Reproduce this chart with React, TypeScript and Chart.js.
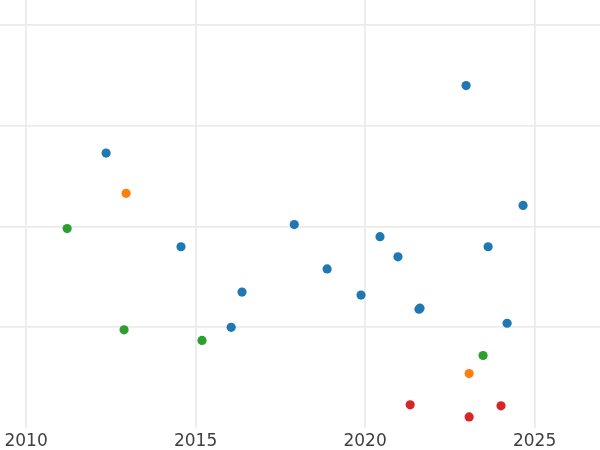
import React, { useEffect, useRef } from "react";
import { Chart, registerables } from "chart.js";

Chart.register(...registerables);

const xTicks = [2010, 2015, 2020, 2025];
const yTicks = [1, 2, 3, 4];

const blueX = [2012.36, 2022.98, 2024.66, 2014.57, 2017.91, 2020.44, 2020.97, 2018.88, 2023.63, 2016.37, 2019.88, 2021.59, 2021.62, 2016.05, 2024.19];
const blueY = [2.73, 3.40, 2.21, 1.80, 2.02, 1.90, 1.70, 1.58, 1.80, 1.35, 1.32, 1.18, 1.19, 1.00, 1.04];
const orangeX = [2012.95, 2023.07];
const orangeY = [2.33, 0.54];
const greenX = [2011.21, 2012.89, 2015.19, 2023.48];
const greenY = [1.98, 0.975, 0.87, 0.72];
const redX = [2021.33, 2023.07, 2024.01];
const redY = [0.23, 0.11, 0.22];

const toPts = (xs: number[], ys: number[]) => xs.map((x, i) => ({ x, y: ys[i] }));

export default function App() {
  const ref = useRef<HTMLCanvasElement>(null);
  useEffect(() => {
    if (!ref.current) return;
    const mk = (label: string, xs: number[], ys: number[], color: string) => ({
      label,
      data: toPts(xs, ys),
      backgroundColor: color,
      borderColor: color,
      borderWidth: 0,
      pointRadius: 4.6,
    });
    const chart = new Chart(ref.current, {
      type: "scatter",
      data: {
        datasets: [
          mk("blue", blueX, blueY, "#1f77b4"),
          mk("orange", orangeX, orangeY, "#ff7f0e"),
          mk("green", greenX, greenY, "#2ca02c"),
          mk("red", redX, redY, "#d62728"),
        ],
      },
      options: {
        animation: false,
        responsive: false,
        layout: { padding: 0, autoPadding: false },
        plugins: { legend: { display: false }, tooltip: { enabled: false } },
        scales: {
          x: {
            type: "linear",
            min: 2009.23,
            max: 2026.93,
            afterBuildTicks: (s: any) => {
              s.ticks = xTicks.map((v) => ({ value: v }));
            },
            afterFit: (s: any) => {
              s.height = 22;
            },
            border: { display: false },
            grid: { color: "#ebebeb", lineWidth: 1.8, drawTicks: false },
            ticks: {
              padding: 3,
              color: "#3f3f3f",
              font: { family: "DejaVu Sans", size: 17 },
              callback: (v: any) => String(v),
            },
          },
          y: {
            type: "linear",
            min: 0,
            max: 4.25,
            afterBuildTicks: (s: any) => {
              s.ticks = yTicks.map((v) => ({ value: v }));
            },
            afterFit: (s: any) => {
              s.width = 0;
            },
            border: { display: false },
            grid: { color: "#ebebeb", lineWidth: 1.8, drawTicks: false },
            ticks: { display: false },
          },
        },
      },
    } as any);
    return () => chart.destroy();
  }, []);
  return (
    <div style={{ position: "fixed", left: 0, top: 0, width: 600, height: 450, background: "#fff" }}>
      <canvas ref={ref} width={600} height={450} />
    </div>
  );
}
